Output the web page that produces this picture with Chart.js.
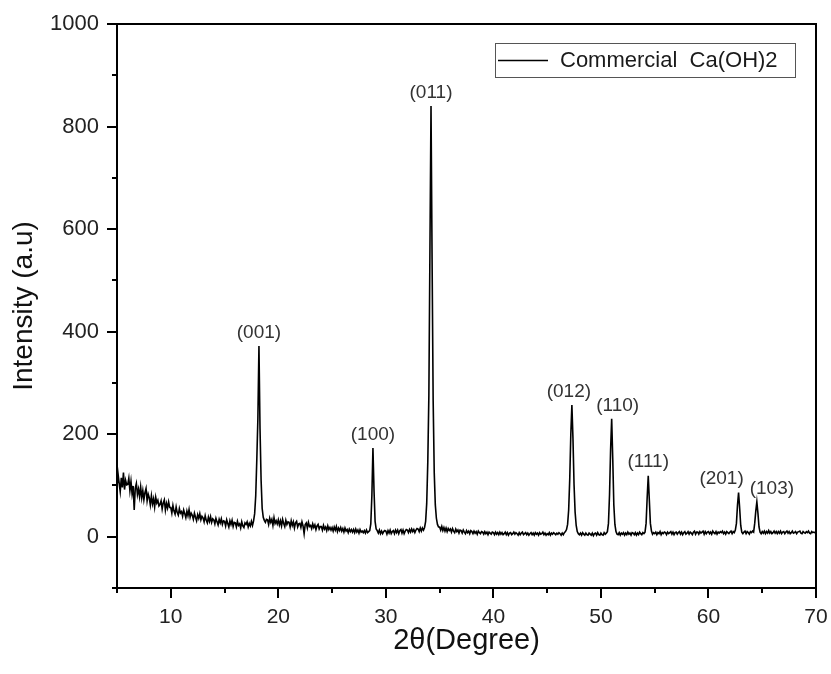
<!DOCTYPE html>
<html>
<head>
<meta charset="utf-8">
<script src="https://cdn.jsdelivr.net/npm/chart.js@4.4.1/dist/chart.umd.min.js"></script>
<style>
  html, body { margin: 0; padding: 0; background: #fff; }
  #wrap { width: 831px; height: 674px; }
</style>
</head>
<body>
<div id="wrap"><canvas id="xrd" width="831" height="674"></canvas></div>
<script>
// scan grid (start / step in degrees 2theta)
const scanStart = 5;
const scanStep = 0.1;

// intensity, one row per degree (5.0 ... 69.9, then 70.0)
const intensity = [
  98,122,104,88,115,96,125,92,110,101,
  102,114,90,108,84,99,52,95,104,82,
  93,78,97,76,90,72,86,94,70,83,
  76,62,80,64,74,58,77,66,71,60,
  63,70,54,66,72,52,65,56,68,57,
  57,46,61,50,44,58,47,42,55,46,
  49,40,52,45,37,50,41,53,38,46,
  42,34,46,38,31,43,36,45,33,40,
  37,29,41,32,27,38,30,39,28,35,
  33,25,36,29,23,34,27,35,24,31,
  30,21,33,26,19,31,24,32,20,28,
  27,19,30,22,25,17,29,21,18,27,
  24,29,19,26,21,30,22,31,45,80,
  150,230,372,210,110,55,38,32,28,34,
  33,24,36,28,34,22,37,26,31,25,
  33,23,31,21,34,26,20,32,24,29,
  28,19,31,22,29,17,27,30,19,25,
  26,18,29,21,6,24,27,17,28,20,
  22,16,25,18,23,14,21,24,15,20,
  20,13,22,15,19,12,21,14,18,13,
  18,11,19,13,20,10,17,12,18,11,
  16,9,17,11,14,8,15,10,14,9,
  14,8,15,9,13,7,14,9,11,8,
  12,7,13,8,10,12,25,80,173,90,
  30,15,12,7,13,6,11,6,10,12,
  11,5,12,7,13,6,10,12,6,13,
  8,13,6,12,14,7,13,6,11,14,
  13,8,14,9,15,10,14,8,13,16,
  15,10,17,11,17,13,18,30,65,145,
  275,560,840,540,265,125,62,36,24,19,
  19,13,20,12,18,11,17,10,16,12,
  15,9,16,11,8,15,10,13,7,13,
  12,7,13,9,6,12,8,11,6,12,
  10,6,11,7,10,5,11,8,6,10,
  9,5,10,6,9,4,9,7,5,9,
  8,4,9,5,8,4,9,5,8,4,
  6,9,4,8,3,7,8,4,6,9,
  5,8,6,3,8,4,7,9,4,6,
  8,4,7,3,6,8,4,7,3,8,
  5,7,3,8,5,6,9,4,7,3,
  6,4,8,3,7,5,8,6,4,7,
  5,8,6,3,7,4,8,10,14,24,
  52,112,200,257,192,102,48,22,10,6,
  4,7,3,8,5,3,7,4,3,7,
  5,3,7,2,6,7,3,8,4,3,
  7,4,3,8,5,7,10,26,82,170,
  230,152,62,24,10,5,4,8,3,7,
  5,8,3,7,4,9,5,7,3,8,
  7,4,8,3,7,4,9,6,4,8,
  6,9,26,76,119,72,26,11,5,8,
  6,9,4,8,6,10,4,8,6,9,
  8,4,9,6,8,10,5,9,4,8,
  9,5,8,10,5,9,4,8,10,5,
  7,10,5,9,7,4,9,11,5,9,
  9,5,10,7,9,11,5,10,6,9,
  10,6,9,5,11,8,6,10,5,9,
  7,10,8,11,6,9,5,10,8,6,
  9,11,6,10,8,13,26,62,86,56,
  22,9,6,9,11,6,10,8,5,10,
  8,11,9,26,50,68,46,19,9,6,
  10,7,11,6,10,7,12,7,10,6,
  8,11,7,10,6,10,7,11,6,9,
  10,6,9,11,7,10,6,8,11,7,
  8,10,6,9,10,11,7,6,10,8,
  7,10,8,11,7,6,10,8,9,8,
  8
];

// peak indexing
const peakAngles = [18.2, 28.8, 34.2, 47.3, 51.0, 54.4, 62.8, 64.5];
const peakLabels = ['(001)', '(100)', '(011)', '(012)', '(110)', '(111)', '(201)', '(103)'];

// axis tick labels
const xTickLabels = [10, 20, 30, 40, 50, 60, 70];
const yTickLabels = [0, 200, 400, 600, 800, 1000];

const seriesName = 'Commercial  Ca(OH)2';

const points = intensity.map((v, i) => ({ x: Math.round((scanStart + i * scanStep) * 10) / 10, y: v }));

// small sideways shifts so crowded labels don't overlap (pixels)
const labelNudge = { '(012)': -3, '(110)': 6, '(201)': -17, '(103)': 15 };

const FONT = '"Liberation Sans", Arial, sans-serif';

function noPad(s) {
  s.paddingLeft = 0; s.paddingRight = 0; s.paddingTop = 0; s.paddingBottom = 0;
}

const framePlugin = {
  id: 'frame',
  afterDraw(chart) {
    const ctx = chart.ctx;
    const a = chart.chartArea;
    const xs = chart.scales.x, ys = chart.scales.y;
    ctx.save();
    // box
    ctx.strokeStyle = '#000';
    ctx.lineWidth = 2;
    ctx.strokeRect(a.left, a.top, a.right - a.left, a.bottom - a.top);
    // ticks, outward, majors longer
    ctx.beginPath();
    for (let v = 5; v <= 70; v += 5) {
      const px = Math.round(xs.getPixelForValue(v));
      const len = v % 10 === 0 ? 10 : 5;
      ctx.moveTo(px, a.bottom);
      ctx.lineTo(px, a.bottom + len);
    }
    for (let v = -100; v <= 1000; v += 100) {
      const py = Math.round(ys.getPixelForValue(v));
      const len = v % 200 === 0 ? 10 : 5;
      ctx.moveTo(a.left, py);
      ctx.lineTo(a.left - len, py);
    }
    ctx.stroke();

    // peak labels
    ctx.fillStyle = '#333';
    ctx.font = '19px ' + FONT;
    ctx.textAlign = 'center';
    ctx.textBaseline = 'bottom';
    peakAngles.forEach((ang, k) => {
      const idx = Math.round((ang - scanStart) / scanStep);
      const px = xs.getPixelForValue(ang) + (labelNudge[peakLabels[k]] || 0);
      const py = ys.getPixelForValue(intensity[idx]) - 4;
      ctx.fillText(peakLabels[k], px, py);
    });

    // legend box
    const bx = a.right - 321, by = a.top + 19, bw = 300, bh = 34;
    ctx.strokeStyle = '#555';
    ctx.lineWidth = 1;
    ctx.strokeRect(bx + 0.5, by + 0.5, bw, bh);
    ctx.strokeStyle = '#000';
    ctx.lineWidth = 1.5;
    ctx.beginPath();
    ctx.moveTo(bx + 3, by + 17.5);
    ctx.lineTo(bx + 53, by + 17.5);
    ctx.stroke();
    ctx.fillStyle = '#1a1a1a';
    ctx.font = '22px ' + FONT;
    ctx.textAlign = 'left';
    ctx.textBaseline = 'middle';
    ctx.fillText(seriesName, bx + 65, by + 18);
    ctx.restore();
  }
};

new Chart(document.getElementById('xrd'), {
  type: 'line',
  data: {
    datasets: [{
      label: seriesName,
      data: points,
      borderColor: '#000',
      borderWidth: 1.6,
      pointRadius: 0,
      tension: 0,
      fill: false
    }]
  },
  options: {
    responsive: false,
    animation: false,
    devicePixelRatio: 1,
    layout: { padding: { left: 0, right: 15, top: 24, bottom: 0 } },
    plugins: {
      legend: { display: false },
      tooltip: { enabled: false }
    },
    scales: {
      x: {
        type: 'linear',
        min: 5,
        max: 70,
        afterFit(s) { s.height = 86; noPad(s); },
        afterBuildTicks(s) { s.ticks = xTickLabels.map(v => ({ value: v })); },
        grid: { display: false, drawTicks: false },
        border: { display: false },
        ticks: {
          padding: 17,
          color: '#222',
          font: { family: FONT, size: 21 },
          maxRotation: 0,
          autoSkip: false,
          callback: v => String(v)
        },
        title: {
          display: true,
          text: '2θ(Degree)',
          color: '#111',
          font: { family: FONT, size: 29 },
          padding: { top: 0, bottom: 16 }
        }
      },
      y: {
        type: 'linear',
        min: -100,
        max: 1000,
        afterFit(s) { s.width = 117; noPad(s); },
        afterBuildTicks(s) { s.ticks = yTickLabels.map(v => ({ value: v })); },
        grid: { display: false, drawTicks: false },
        border: { display: false },
        ticks: {
          padding: 18,
          color: '#222',
          font: { family: FONT, size: 22 },
          autoSkip: false,
          callback: v => String(v)
        },
        title: {
          display: true,
          text: 'Intensity (a.u)',
          color: '#111',
          font: { family: FONT, size: 28 },
          padding: { top: 7, bottom: 0 }
        }
      }
    }
  },
  plugins: [framePlugin]
});
</script>
</body>
</html>
